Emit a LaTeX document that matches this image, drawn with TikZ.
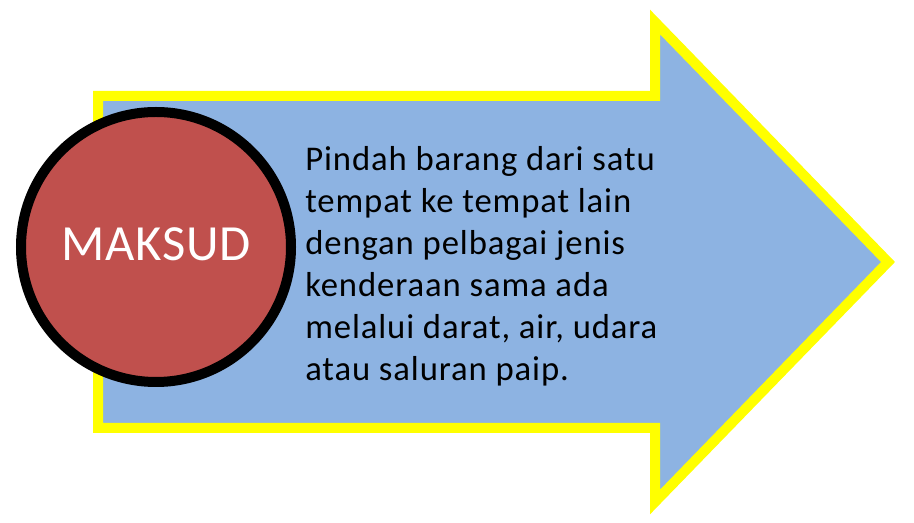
\documentclass[tikz,border=0pt]{standalone}
\usepackage{fontspec}
\setmainfont{Carlito}
\usetikzlibrary{positioning}
\definecolor{arrowblue}{HTML}{8DB3E2}
\definecolor{arrowyellow}{HTML}{FFFF00}
\definecolor{circlered}{HTML}{C0504D}

\begin{document}
\begin{tikzpicture}[x=0.75pt, y=-0.75pt,
    arrowline/.style={draw=arrowyellow, line width=7.5pt, fill=arrowblue, miter limit=10},
    bigdot/.style={circle, draw=black, line width=7.5pt, fill=circlered, minimum size=202.5pt, inner sep=0pt},
    desc/.style={align=left, inner sep=0pt, font=\fontsize{26}{31.5}\selectfont\addfontfeature{LetterSpace=2.6}}]
\useasboundingbox (0,0) rectangle (914,523);
\draw[arrowline] (98,96) -- (655,96) -- (655,22) -- (888,262) -- (655,502) -- (655,428) -- (98,428) -- cycle;
\node[bigdot] (maksud) at (156,247) {};
\node[text=white, font=\fontsize{38}{40}\selectfont\addfontfeature{LetterSpace=1.5}] (label) at (156,244) {MAKSUD};
\node[desc, anchor=north west] (text) at (305,146) {Pindah barang dari satu\\tempat ke tempat lain\\dengan pelbagai jenis\\kenderaan sama ada\\melalui darat, air, udara\\atau saluran paip.};
\end{tikzpicture}
\end{document}
